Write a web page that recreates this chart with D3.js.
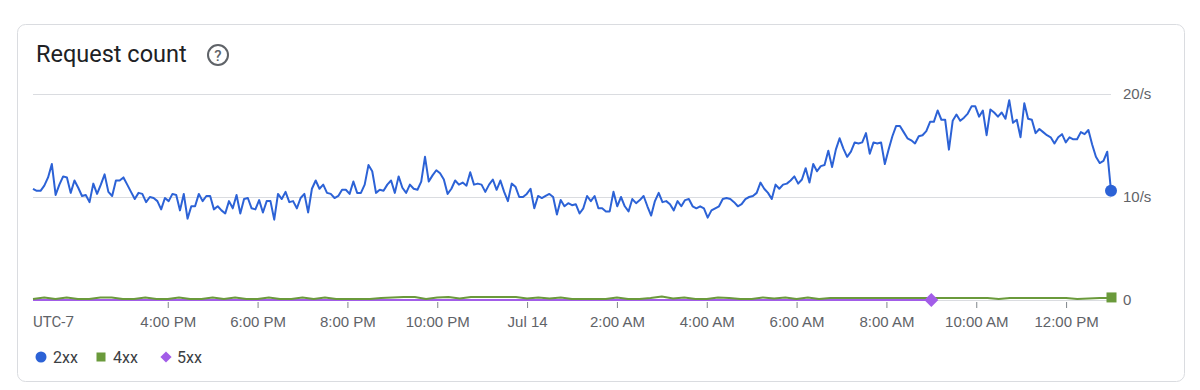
<!DOCTYPE html>
<html>
<head>
<meta charset="utf-8">
<script src="https://cdn.jsdelivr.net/npm/d3@7"></script>
<style>
  body { margin: 0; background: #fff; }
  svg { display: block; font-family: Roboto, "Noto Sans", sans-serif; }
  .grid line { stroke: #dadce0; stroke-width: 1px; }
  .xaxis line { stroke: #80868b; }
  .axis text { fill: #5f6368; font-size: 15px; }
</style>
</head>
<body>
<svg id="chart" width="1200" height="390"></svg>
<script>
var seriesNames = ["2xx", "4xx", "5xx"];
var seriesColors = ["#2c62d6", "#6a9a3b", "#a25de8"];

var startTime = new Date(2024, 6, 13, 13, 0);
var endTime = new Date(2024, 6, 14, 13, 0);

// 2xx, about every 5 min, whole window
var values2xx = [
  10.8, 10.6, 10.6, 11.1, 11.9, 13.2, 10.2, 11.2, 12.0, 11.9, 10.4, 11.6, 10.9, 10.1, 10.2, 9.5, 11.3, 10.3, 11.2, 12.2,
  10.5, 10.1, 11.6, 11.6, 11.9, 11.2, 10.5, 9.8, 10.4, 10.3, 9.5, 10.0, 9.9, 9.6, 8.8, 9.9, 9.6, 10.3, 10.2, 8.7,
  10.3, 7.9, 9.1, 9.1, 10.3, 9.6, 10.1, 10.1, 8.8, 9.1, 8.7, 8.4, 9.6, 8.9, 10.2, 8.4, 9.8, 9.9, 8.9, 8.8,
  9.7, 8.5, 9.6, 9.6, 7.8, 10.3, 9.8, 10.5, 9.5, 9.6,
  8.9, 9.9, 10.3, 8.5, 10.8, 11.6, 10.8, 11.2, 10.4, 10.3, 9.9, 10.1, 10.7, 10.7, 10.3, 11.5, 10.4, 10.4, 11.2, 13.1,
  12.5, 10.4, 10.7, 10.6, 11.2, 11.6, 10.4, 12.0, 10.9, 10.4, 11.2, 10.8, 10.7, 11.5, 13.9, 11.5, 12.1, 12.6, 12.3, 11.7,
  10.3, 10.8, 11.6, 11.2, 11.4, 11.1, 12.4, 11.2, 11.3, 11.2, 10.5, 11.2, 11.7, 10.7, 11.6, 10.5, 9.6, 11.3, 11.0, 10.0,
  10.0, 10.3, 10.8, 8.9, 10.1, 9.9, 10.1, 10.3, 10.0, 8.3, 9.7, 9.1,
  9.4, 9.2, 9.3, 8.4, 8.9, 10.1, 9.6, 10.1, 8.9, 8.9, 8.6, 8.6, 10.5, 9.1, 10.0, 9.1, 8.6, 9.8, 9.4, 9.7,
  10.1, 9.1, 8.2, 9.6, 10.4, 9.5, 9.6, 9.3, 8.7, 9.6, 9.1, 9.7, 9.8, 9.1, 8.9, 9.1, 8.9, 8.0, 8.7, 8.9,
  9.1, 9.8, 9.9, 9.8, 9.5, 9.1, 9.3, 9.8, 10.0, 10.1, 10.4, 11.4, 10.8, 10.4, 9.8, 11.2, 10.8, 11.2, 11.3, 11.6,
  12.0, 11.3, 11.7, 12.8, 11.4, 13.2, 12.5, 13.0, 13.1, 14.5, 12.9, 14.6,
  15.7, 14.7, 13.9, 14.4, 15.3, 15.2, 15.3, 16.2, 14.2, 15.3, 15.2, 15.3, 13.2, 14.6, 15.9, 16.9, 16.9, 16.3, 15.7, 15.5,
  15.2, 15.9, 16.0, 16.4, 17.3, 17.3, 18.4, 17.5, 17.5, 14.6, 17.4, 18.0, 17.4, 17.7, 18.1, 18.8, 18.8, 17.8, 18.4, 16.0,
  18.5, 18.2, 17.8, 18.2, 17.6, 19.4, 17.2, 17.5, 15.8, 19.1, 17.6, 17.5, 16.2, 16.6, 16.3, 16.0, 15.8, 15.2, 15.8, 16.1,
  15.3, 15.8, 15.6, 15.6, 16.3, 16.1, 16.5, 15.1, 13.9, 13.3, 13.5, 14.4, 10.6
];

// 4xx, every 15 min
var values4xx = [
  0.1, 0.25, 0.1, 0.25, 0.1, 0.1, 0.25, 0.25, 0.1, 0.1, 0.25, 0.1, 0.1, 0.25, 0.1, 0.1, 0.25, 0.1, 0.25, 0.1,
  0.1, 0.25, 0.1, 0.1, 0.25, 0.1, 0.25, 0.1, 0.1, 0.1, 0.1, 0.2, 0.25, 0.3, 0.3, 0.1, 0.25, 0.3, 0.15, 0.3,
  0.3, 0.3, 0.3, 0.3, 0.15, 0.25, 0.15, 0.25, 0.1, 0.1, 0.1, 0.1, 0.25, 0.1, 0.1, 0.2, 0.35, 0.15, 0.25, 0.1,
  0.1, 0.25, 0.2, 0.1, 0.1, 0.25, 0.15, 0.25, 0.1, 0.25, 0.1, 0.2, 0.2, 0.2, 0.2, 0.2, 0.2, 0.2, 0.2, 0.2,
  0.2, 0.2, 0.2, 0.2, 0.2, 0.2, 0.1, 0.2, 0.2, 0.2, 0.2, 0.2, 0.2, 0.1, 0.15, 0.2, 0.2
];

// 5xx, hourly, ends at 9 AM
var values5xx = [0, 0, 0, 0, 0, 0, 0, 0, 0, 0, 0, 0, 0, 0, 0, 0, 0, 0, 0, 0, 0];

var tickTimes = [
  new Date(2024, 6, 13, 16), new Date(2024, 6, 13, 18), new Date(2024, 6, 13, 20), new Date(2024, 6, 13, 22),
  new Date(2024, 6, 14, 0), new Date(2024, 6, 14, 2), new Date(2024, 6, 14, 4), new Date(2024, 6, 14, 6),
  new Date(2024, 6, 14, 8), new Date(2024, 6, 14, 10), new Date(2024, 6, 14, 12)
];
var tickLabels = ["4:00 PM", "6:00 PM", "8:00 PM", "10:00 PM", "Jul 14", "2:00 AM", "4:00 AM",
  "6:00 AM", "8:00 AM", "10:00 AM", "12:00 PM"];
var yTicks = [0, 10, 20];
var yTickLabels = ["0", "10/s", "20/s"];

var svg = d3.select("#chart");

var x = d3.scaleTime().domain([startTime, endTime]).range([33, 1111]);
var y = d3.scaleLinear().domain([0, 20]).range([300, 94]);

// card
svg.append("rect")
  .attr("x", 17.5).attr("y", 24.5)
  .attr("width", 1167).attr("height", 357)
  .attr("rx", 8)
  .attr("fill", "#fff")
  .attr("stroke", "#dadce0");

// title
svg.append("text")
  .attr("x", 36).attr("y", 62)
  .attr("font-size", 23.5)
  .attr("fill", "#202124")
  .text("Request count");

var help = svg.append("g").attr("transform", "translate(218,55)");
help.append("circle").attr("r", 10).attr("fill", "none").attr("stroke", "#5f6368").attr("stroke-width", 2);
help.append("text")
  .attr("text-anchor", "middle").attr("y", 5.5)
  .attr("font-size", 15).attr("font-weight", 500)
  .attr("fill", "#5f6368").text("?");

// grid + right labels
var yAxis = d3.axisRight(y)
  .tickValues(yTicks)
  .tickSize(-(1111 - 33))
  .tickPadding(12)
  .tickFormat(function(d, i) { return yTickLabels[i]; });

svg.append("g")
  .attr("class", "axis grid")
  .attr("transform", "translate(1111,0)")
  .call(yAxis)
  .call(function(g) { g.select(".domain").remove(); });

// x axis
var xAxis = d3.axisBottom(x)
  .tickValues(tickTimes)
  .tickSize(6)
  .tickPadding(8)
  .tickFormat(function(d, i) { return tickLabels[i]; });

svg.append("g")
  .attr("class", "axis xaxis")
  .attr("transform", "translate(0,302)")
  .call(xAxis)
  .call(function(g) { g.select(".domain").remove(); });

svg.append("text")
  .attr("x", 33).attr("y", 327)
  .attr("font-size", 15).attr("fill", "#5f6368")
  .text("UTC-7");

// series data with times
function withTimes(vals, stepMs) {
  return vals.map(function(v, i) { return { t: new Date(+startTime + i * stepMs), v: v }; });
}
var span = endTime - startTime;
var data2xx = withTimes(values2xx, span / (values2xx.length - 1));
var data4xx = withTimes(values4xx, 15 * 60 * 1000);
var data5xx = withTimes(values5xx, 60 * 60 * 1000);

var line = d3.line()
  .x(function(d) { return x(d.t); })
  .y(function(d) { return y(d.v); });

var series = [data2xx, data4xx, data5xx];
[2, 1, 0].forEach(function(k) {
  svg.append("path")
    .datum(series[k])
    .attr("fill", "none")
    .attr("stroke", seriesColors[k])
    .attr("stroke-width", 2)
    .attr("stroke-linejoin", "round")
    .attr("d", line);
});

// rotated square for the 5xx marker
var diamondPath = "M0,-7L7,0L0,7L-7,0Z";

// end markers
var last2 = data2xx[data2xx.length - 1];
svg.append("circle")
  .attr("cx", x(last2.t)).attr("cy", y(last2.v)).attr("r", 6)
  .attr("fill", seriesColors[0]);

var last4 = data4xx[data4xx.length - 1];
svg.append("rect")
  .attr("x", x(last4.t) - 4.5).attr("y", y(last4.v) - 5.5)
  .attr("width", 10).attr("height", 10)
  .attr("fill", seriesColors[1]);

var last5 = data5xx[data5xx.length - 1];
svg.append("path")
  .attr("transform", "translate(" + x(last5.t) + "," + y(last5.v) + ")")
  .attr("d", diamondPath)
  .attr("fill", seriesColors[2]);

// legend
var legendX = [35, 95, 159];
var legend = svg.append("g").attr("transform", "translate(0,357)");
seriesNames.forEach(function(name, i) {
  var item = legend.append("g").attr("transform", "translate(" + legendX[i] + ",0)");
  if (i === 0) {
    item.append("circle").attr("cx", 6).attr("r", 5.5).attr("fill", seriesColors[i]);
  } else if (i === 1) {
    item.append("rect").attr("x", 1.5).attr("y", -4.5).attr("width", 9).attr("height", 9).attr("fill", seriesColors[i]);
  } else {
    item.append("path").attr("transform", "translate(7,0) scale(0.8)").attr("d", diamondPath).attr("fill", seriesColors[i]);
  }
  item.append("text")
    .attr("x", 18).attr("y", 5.5)
    .attr("font-size", 16).attr("fill", "#3c4043")
    .text(name);
});
</script>
</body>
</html>
